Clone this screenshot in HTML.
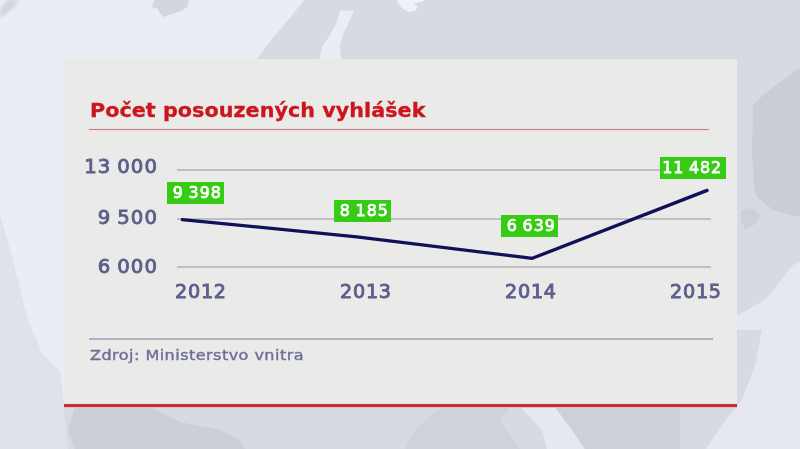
<!DOCTYPE html>
<html>
<head>
<meta charset="utf-8">
<style>
html,body{margin:0;padding:0;}
body{width:800px;height:449px;overflow:hidden;position:relative;background:#d7dae2;font-family:"DejaVu Sans","Liberation Sans",sans-serif;}
#bg{position:absolute;left:0;top:0;}
#panel{position:absolute;left:64px;top:59px;width:673px;height:345px;background:#eaeae9;}
#redline{position:absolute;left:64px;top:403px;width:673px;height:5px;background:linear-gradient(#f3d6d8 0,#f3d6d8 20%,#cf3c43 20%,#cf3c43 40%,#a8282c 40%,#a8282c 60%,#c13a40 60%,#c13a40 80%,#e2bcc0 80%);}
.t{position:absolute;white-space:nowrap;line-height:1;}
#title{left:89.5px;top:100px;font-size:20.2px;font-weight:bold;color:#cc161e;letter-spacing:0.05px;-webkit-text-stroke:0.35px #cc161e;transform:scaleX(1.024);transform-origin:0 0;}
#tline{position:absolute;left:88.5px;top:128px;width:620px;height:3px;background:linear-gradient(#f6dcdc 0,#f6dcdc 33%,#bc868c 33%,#bc868c 67%,#efdede 67%);}
.grid{position:absolute;left:177px;width:534px;height:2px;background:#bfbfc3;}
.yl{position:absolute;right:642px;font-family:"DejaVu Sans",sans-serif;font-weight:normal;font-size:19.7px;letter-spacing:1.05px;word-spacing:-1.4px;color:#5c5e8b;-webkit-text-stroke:0.9px #5c5e8b;line-height:1;white-space:nowrap;}
.xl{position:absolute;top:281.5px;font-family:"DejaVu Sans",sans-serif;font-weight:normal;font-size:19.2px;letter-spacing:0.75px;color:#5c5e8b;-webkit-text-stroke:0.9px #5c5e8b;line-height:1;white-space:nowrap;}
.box{position:absolute;height:22px;background:#36cb14;color:#fff;font-family:"DejaVu Sans",sans-serif;font-weight:normal;-webkit-text-stroke:0.75px #fff;font-size:15.9px;letter-spacing:0.95px;word-spacing:-1.3px;text-indent:3.7px;line-height:22.6px;text-align:center;white-space:nowrap;}
#src{left:90px;top:347.5px;font-size:14.6px;font-weight:normal;letter-spacing:0.41px;-webkit-text-stroke:0.4px #6c6f97;color:#6c6f97;transform:scaleX(1.1);transform-origin:0 0;}
#sline{position:absolute;left:89px;top:338px;width:624px;height:2px;background:#b3b4c0;}
</style>
</head>
<body>
<svg id="bg" width="800" height="449" viewBox="0 0 800 449">
  <rect x="0" y="0" width="800" height="449" fill="#d7dae2"/>
  <path d="M0,0 L304,0 L290,18 L275,35 L256,60 L64,60 L64,408 L60,372 L42,354 L27,318 L12,258 L0,216 Z" fill="#eaedf6"/>
  <path d="M0,216 L12,258 L27,318 L42,354 L60,372 L64,408 L68,449 L0,449 Z" fill="#dfe2e9"/>
  <path d="M340,10 L354,11 L350,20 L344,32 L340,45 L341,60 L319,60 L322,47 L330,35 L337,22 Z" fill="#eaedf6"/>
  <path d="M154,0 L189,0 L188,6 L182,11 L172,14 L164,17 L160,14 L158,9 L152,7 Z" fill="#d3d6de"/>
  <defs><filter id="bl" x="-50%" y="-50%" width="200%" height="200%"><feGaussianBlur stdDeviation="1.6"/></filter></defs>
  <path d="M7,0 L20,0 L14,7 L6,14 L0,18 L0,9 Z" fill="#d3d5db" filter="url(#bl)"/>
  <path d="M396,0 L425,0 L422,2 L414,3 L418,7 L415,11 L408,12 L402,8 Z" fill="#eef1f9"/>
  <path d="M800,68 L776,85 L760,98 L753,105 L752,150 L754,189 L757,197 L773,210 L795,216 L800,216 Z" fill="#cacdd5"/>
  <path d="M741,210 L752,208 L760,214 L756,224 L745,229 L741,222 Z" fill="#cdd0d8"/>
  <path d="M800,262 L793,265 L766,299 L737,316 L737,330 L762,330 L755,365 L742,400 L725,421 L706,449 L800,449 Z" fill="#e6e8ef"/>
  <path d="M75,407 L150,407 L180,422 L220,430 L240,440 L245,449 L75,449 L68,430 Z" fill="#cbced4"/>
  <path d="M405,449 L415,430 L440,408 L510,408 L500,420 L520,449 Z" fill="#cfd2d8"/>
  <path d="M520,407 L555,407 L572,430 L585,449 L547,449 L542,430 Z" fill="#e6e8ef"/>
  <path d="M585,449 L572,430 L555,407 L680,407 L680,449 Z" fill="#cdd0d6"/>
</svg>
<div id="panel"></div>
<div id="redline"></div>
<div class="t" id="title">Počet posouzených vyhlášek</div>
<div id="tline"></div>

<div class="grid" style="top:169px"></div>
<div class="grid" style="top:218px"></div>
<div class="grid" style="top:266px"></div>

<div class="yl" style="top:157px">13 000</div>
<div class="yl" style="top:208px">9 500</div>
<div class="yl" style="top:257px">6 000</div>

<svg style="position:absolute;left:0;top:0" width="800" height="449" viewBox="0 0 800 449">
  <polyline points="182.3,219.6 356.7,236.8 532.3,258.3 707.1,190.4" fill="none" stroke="#10115a" stroke-width="3.3" stroke-linecap="round" stroke-linejoin="round"/>
</svg>

<div class="box" style="left:167px;top:182px;width:57px">9 398</div>
<div class="box" style="left:334px;top:200px;width:57px">8 185</div>
<div class="box" style="left:501px;top:214.5px;width:57px">6 639</div>
<div class="box" style="left:660px;top:157px;width:66px;text-indent:-1.7px">11 482</div>

<div class="xl" style="left:175px">2012</div>
<div class="xl" style="left:340px">2013</div>
<div class="xl" style="left:505px">2014</div>
<div class="xl" style="left:670px">2015</div>

<div id="sline"></div>
<div class="t" id="src">Zdroj: Ministerstvo vnitra</div>
</body>
</html>
